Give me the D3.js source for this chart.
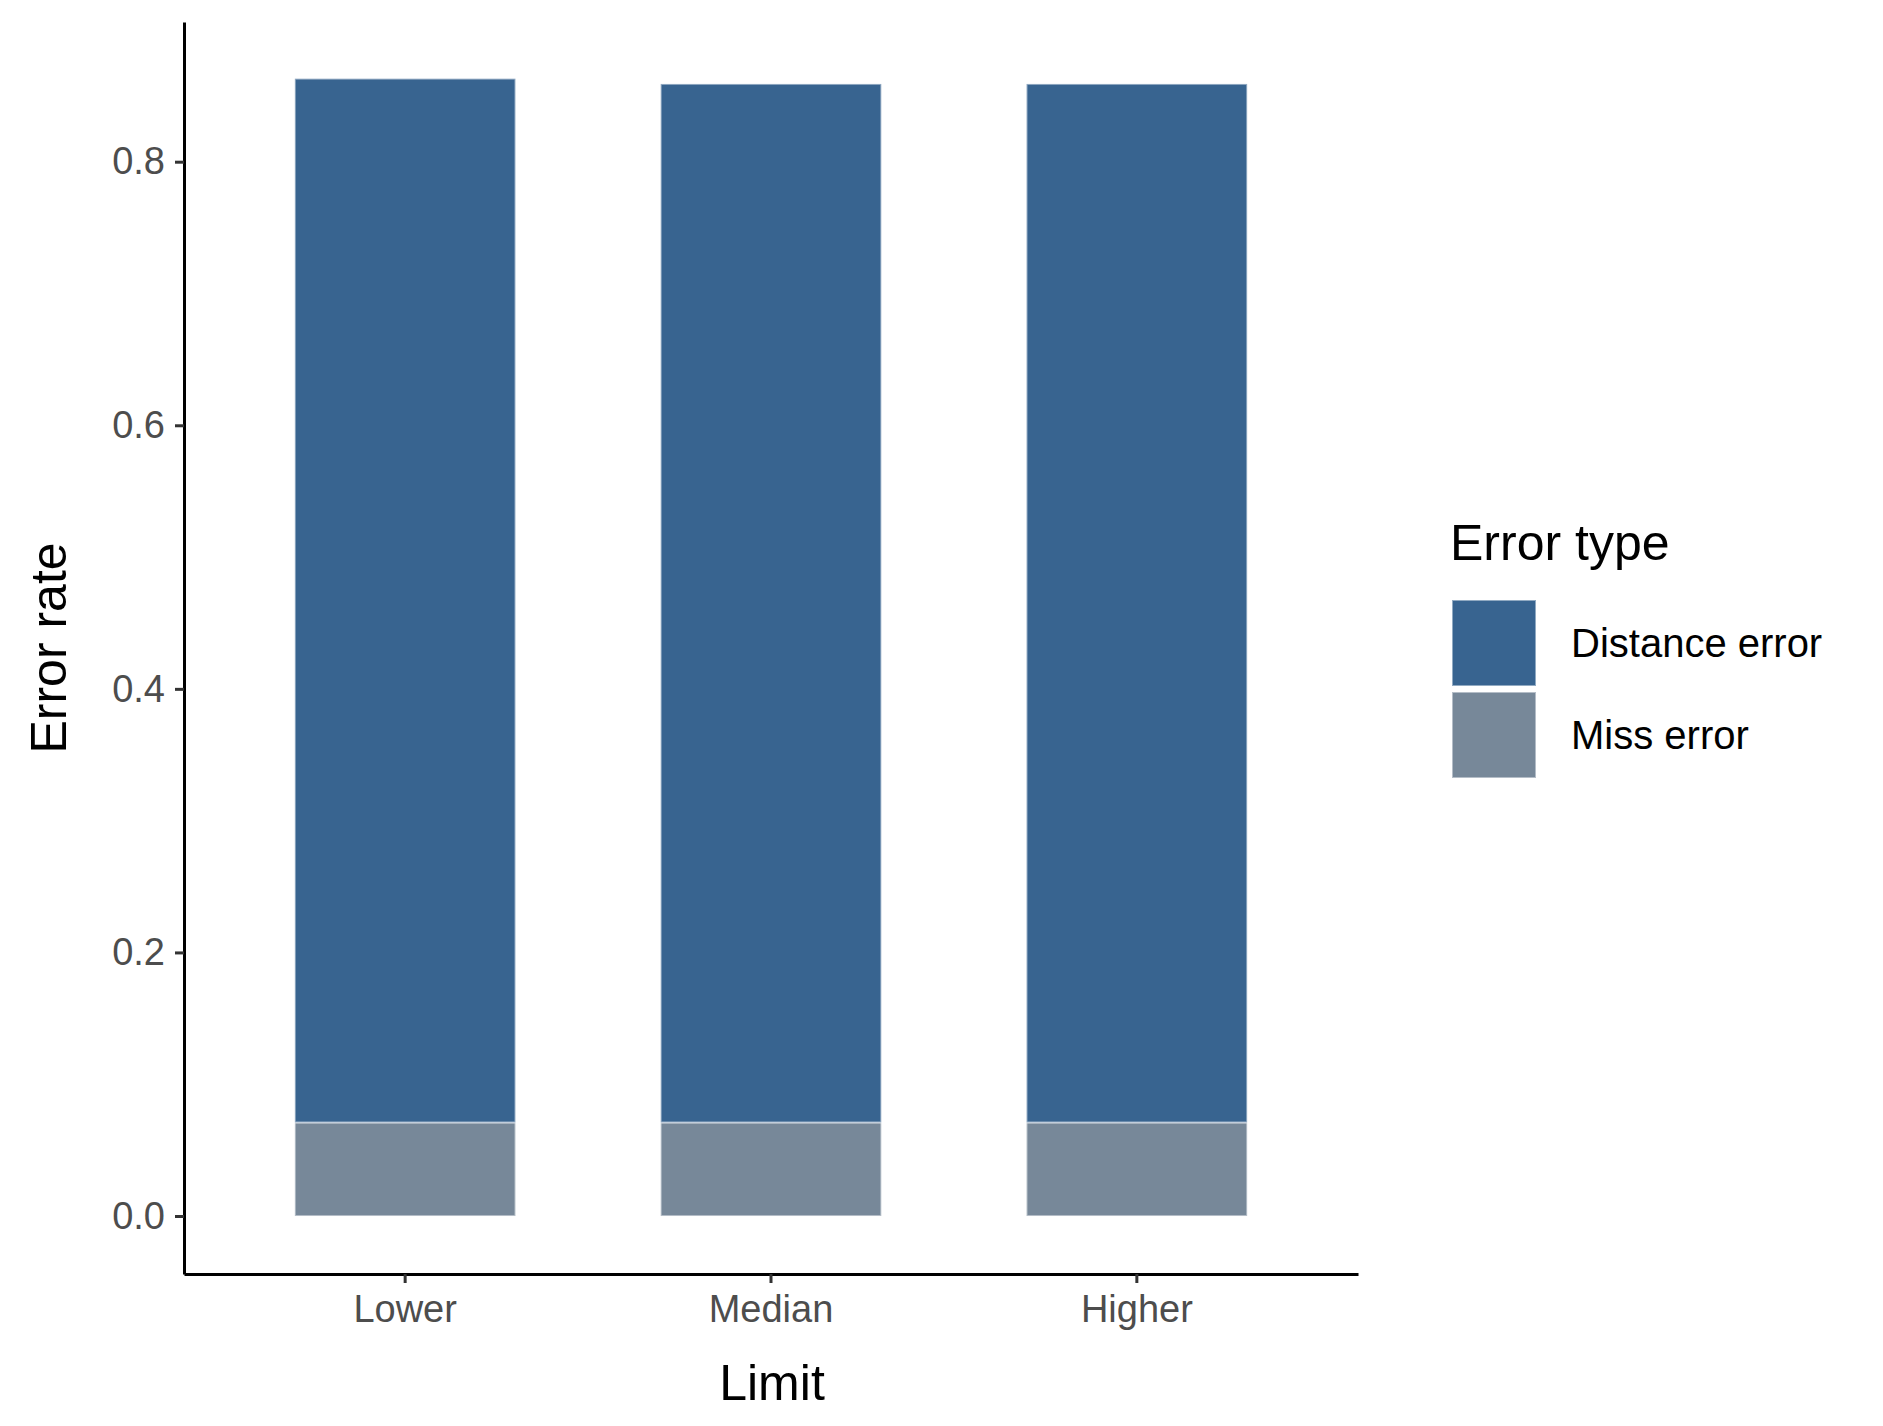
<!DOCTYPE html>
<html>
<head>
<meta charset="utf-8">
<script src="https://cdn.jsdelivr.net/npm/d3@7"></script>
<style>
  body { margin: 0; background: #fff; }
  text { font-family: Arial, "Liberation Sans", sans-serif; }
</style>
</head>
<body>
<svg width="1883" height="1426"></svg>
<script>
var limits = ["Lower", "Median", "Higher"];
var errorTypes = ["Distance error", "Miss error"];
var missError = [0.071, 0.071, 0.071];
var distanceError = [0.792, 0.788, 0.788];
var yTicks = [0, 0.2, 0.4, 0.6, 0.8];
var colors = ["#386490", "#778899"];

var svg = d3.select("svg");
var plotLeft = 184, plotRight = 1358, plotTop = 22, plotBottom = 1274;

var xScale = d3.scaleBand().domain(limits).range([plotLeft, plotRight])
  .paddingInner(0.397).paddingOuter(0.303);
var yScale = d3.scaleLinear().domain([-0.044, 0.906]).range([plotBottom, plotTop]);

var rows = limits.map(function(l, i) {
  return { limit: l, "Miss error": missError[i], "Distance error": distanceError[i] };
});
var stacked = d3.stack().keys(["Miss error", "Distance error"])(rows);

svg.append("g").selectAll("g")
  .data(stacked)
  .enter().append("g")
  .attr("fill", function(d) { return d.key == "Miss error" ? colors[1] : colors[0]; })
  .selectAll("rect")
  .data(function(d) { return d; })
  .enter().append("rect")
  .attr("x", function(d) { return xScale(d.data.limit); })
  .attr("width", xScale.bandwidth())
  .attr("y", function(d) { return yScale(d[1]); })
  .attr("height", function(d) { return yScale(d[0]) - yScale(d[1]); })
  .attr("stroke", "rgba(255,255,255,0.45)")
  .attr("stroke-width", 2);

var xAxis = svg.append("g")
  .attr("transform", "translate(0," + plotBottom + ")")
  .call(d3.axisBottom(xScale).tickSizeInner(9).tickSizeOuter(0).tickPadding(12));
var yAxis = svg.append("g")
  .attr("transform", "translate(" + plotLeft + ",0)")
  .call(d3.axisLeft(yScale).tickValues(yTicks).tickFormat(d3.format(".1f"))
    .tickSizeInner(9).tickSizeOuter(0).tickPadding(10));

[xAxis, yAxis].forEach(function(a) {
  a.select(".domain").attr("stroke", "#000").attr("stroke-width", 3);
  a.selectAll(".tick line").attr("stroke", "#333").attr("stroke-width", 3);
  a.selectAll(".tick text").attr("fill", "#4d4d4d").style("font-size", "38px");
});

svg.append("text").attr("x", 772).attr("y", 1400).attr("text-anchor", "middle")
  .style("font-size", "50px").text("Limit");
svg.append("text").attr("transform", "translate(66,648) rotate(-90)").attr("text-anchor", "middle")
  .style("font-size", "50px").text("Error rate");

// legend
var legend = svg.append("g");
legend.append("text").attr("x", 1450).attr("y", 560).style("font-size", "50px").text("Error type");
errorTypes.forEach(function(t, i) {
  var y = 600 + i * 92;
  legend.append("rect").attr("x", 1452).attr("y", y).attr("width", 84).attr("height", 86)
    .attr("fill", colors[i]).attr("stroke", "rgba(255,255,255,0.45)").attr("stroke-width", 2);
  legend.append("text").attr("x", 1571).attr("y", y + 57).style("font-size", "40px").text(t);
});
</script>
</body>
</html>
